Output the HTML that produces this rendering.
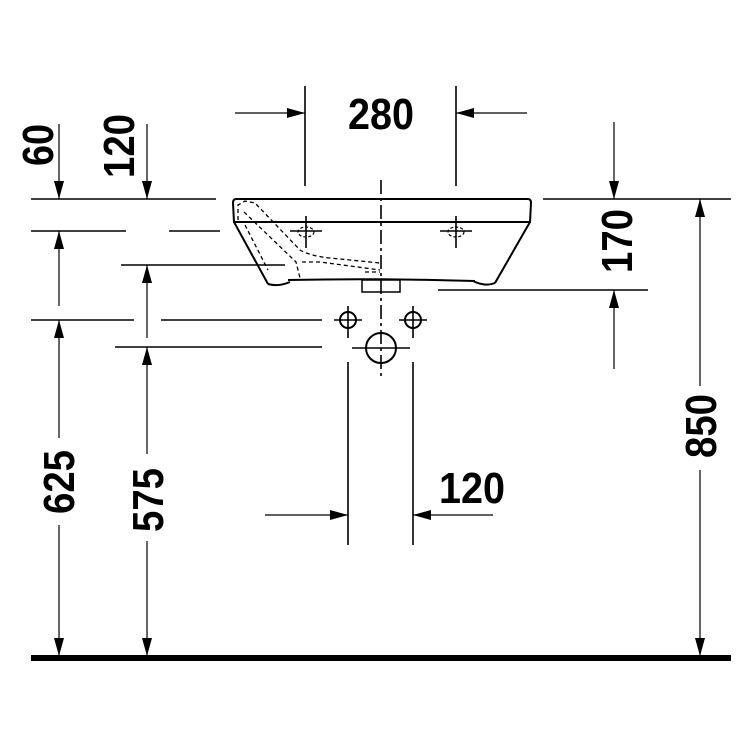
<!DOCTYPE html>
<html><head><style>html,body{margin:0;padding:0;background:#fff}</style></head>
<body>
<svg width="750" height="750" viewBox="0 0 750 750" xmlns="http://www.w3.org/2000/svg">
<defs>
<marker id="a" viewBox="0 0 18 10" refX="18" refY="5" markerWidth="18" markerHeight="10" markerUnits="userSpaceOnUse" orient="auto-start-reverse"><path d="M0,0 L18,5 L0,10 z" fill="#000"/></marker>
</defs>
<rect width="750" height="750" fill="#fff"/>
<g stroke="#000" stroke-width="1.6" fill="none">
<line x1="31" y1="199" x2="216" y2="199"/>
<line x1="543" y1="199" x2="731" y2="199"/>
<line x1="31" y1="231" x2="126" y2="231"/>
<line x1="169" y1="231" x2="220" y2="231"/>
<line x1="121" y1="265" x2="285" y2="265"/>
<line x1="438" y1="290" x2="648" y2="290"/>
<line x1="31" y1="320" x2="134" y2="320"/>
<line x1="161" y1="320" x2="322" y2="320"/>
<line x1="115" y1="347" x2="322" y2="347"/>
<line x1="305" y1="86" x2="305" y2="186"/>
<line x1="456" y1="86" x2="456" y2="186"/>
<line x1="235" y1="113" x2="305" y2="113" marker-end="url(#a)" stroke-width="1.2"/>
<line x1="527" y1="113" x2="456" y2="113" marker-end="url(#a)" stroke-width="1.2"/>
<line x1="348" y1="362" x2="348" y2="545"/>
<line x1="413" y1="362" x2="413" y2="545"/>
<line x1="265" y1="515" x2="348" y2="515" marker-end="url(#a)" stroke-width="1.2"/>
<line x1="493" y1="515" x2="413" y2="515" marker-end="url(#a)" stroke-width="1.2"/>
<g stroke-width="1.2">
<line x1="59" y1="124" x2="59" y2="199" marker-end="url(#a)"/>
<line x1="59" y1="306" x2="59" y2="231" marker-end="url(#a)"/>
<line x1="59" y1="438" x2="59" y2="320" marker-end="url(#a)"/>
<line x1="59" y1="525" x2="59" y2="656" marker-end="url(#a)"/>
<line x1="147" y1="124" x2="147" y2="199" marker-end="url(#a)"/>
<line x1="147" y1="338" x2="147" y2="265" marker-end="url(#a)"/>
<line x1="147" y1="454" x2="147" y2="347" marker-end="url(#a)"/>
<line x1="147" y1="541" x2="147" y2="656" marker-end="url(#a)"/>
<line x1="614" y1="122" x2="614" y2="199" marker-end="url(#a)"/>
<line x1="614" y1="369" x2="614" y2="290" marker-end="url(#a)"/>
<line x1="700" y1="386" x2="700" y2="199" marker-end="url(#a)"/>
<line x1="700" y1="470" x2="700" y2="656" marker-end="url(#a)"/>
</g>
<path d="M236,199 L528,199 Q531,199 531,203 L530,222 L234,222 L233,203 Q233,199 236,199 Z" stroke-width="2"/>
<path d="M234,222 L268,284 M530,222 L495,283 M288,280 Q380,278 475,281" stroke-width="2"/>
<path d="M268,284 Q278,287 290,282 M473,281 Q485,287 495,283" stroke-width="2"/>
<rect x="362" y="280" width="38" height="12" stroke-width="1.5"/>
<path d="M238,220 L238,205 L245,201 L255,203 L300,250 Q310,256 330,258 L380,263 M245,225 L268,270 M244,212 L296,262 L300,278 M302,262 L320,262 L380,270 M365,272 L380,272" stroke-dasharray="4,3" stroke-width="1.3"/>
<line x1="381" y1="180" x2="381" y2="378" stroke-dasharray="14,4,3,4" stroke-width="1.6"/>
<line x1="306" y1="216" x2="306" y2="248"/><line x1="290" y1="231" x2="322" y2="231"/>
<line x1="456" y1="216" x2="456" y2="248"/><line x1="440" y1="231" x2="472" y2="231"/>
<ellipse cx="306" cy="232" rx="8" ry="5" stroke-dasharray="3,2" stroke-width="1.2"/>
<ellipse cx="456" cy="232" rx="8" ry="5" stroke-dasharray="3,2" stroke-width="1.2"/>
<circle cx="348" cy="320" r="8" stroke-width="2"/><line x1="334" y1="320" x2="362" y2="320"/><line x1="348" y1="306" x2="348" y2="338"/>
<circle cx="413" cy="320" r="8" stroke-width="2"/><line x1="399" y1="320" x2="427" y2="320"/><line x1="413" y1="306" x2="413" y2="338"/>
<circle cx="381" cy="348" r="15" stroke-width="2"/><line x1="352" y1="348" x2="410" y2="348"/>
</g>
<rect x="31" y="655" width="700" height="6" fill="#000"/>
<g font-family="Liberation Sans, sans-serif" font-weight="bold" font-size="44" fill="#000" text-anchor="middle">
<text x="381" y="129" textLength="66" lengthAdjust="spacingAndGlyphs">280</text>
<text x="472" y="503" textLength="66" lengthAdjust="spacingAndGlyphs">120</text>
<text transform="translate(53,145) rotate(-90)" textLength="42" lengthAdjust="spacingAndGlyphs">60</text>
<text transform="translate(134,146) rotate(-90)" textLength="64" lengthAdjust="spacingAndGlyphs">120</text>
<text transform="translate(632,241) rotate(-90)" textLength="64" lengthAdjust="spacingAndGlyphs">170</text>
<text transform="translate(716,426) rotate(-90)" textLength="64" lengthAdjust="spacingAndGlyphs">850</text>
<text transform="translate(74,482) rotate(-90)" textLength="64" lengthAdjust="spacingAndGlyphs">625</text>
<text transform="translate(163,500) rotate(-90)" textLength="64" lengthAdjust="spacingAndGlyphs">575</text>
</g>
</svg>
</body></html>
